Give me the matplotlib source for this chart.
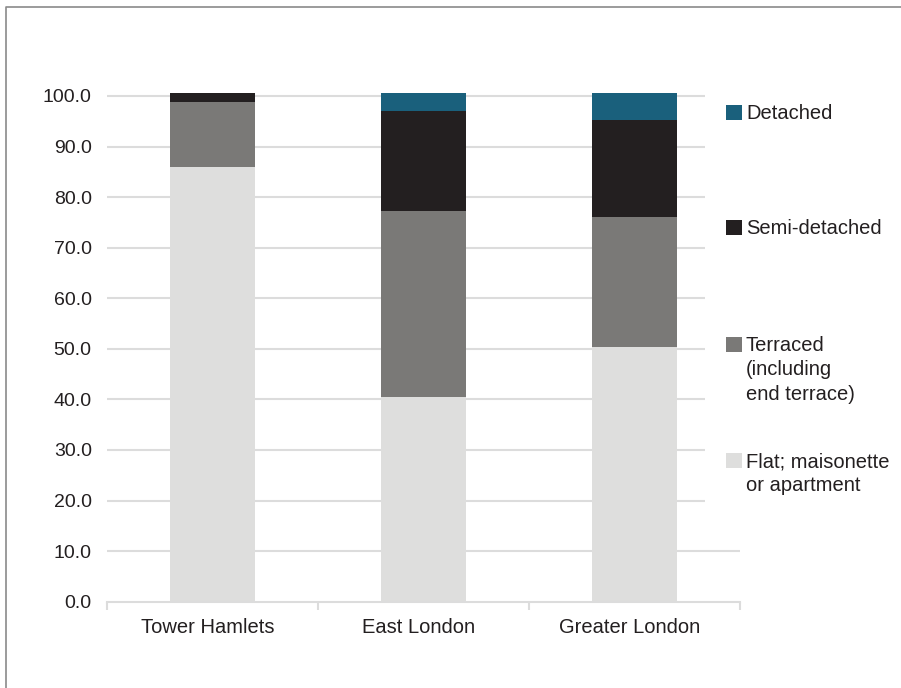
import numpy as np
import matplotlib.pyplot as plt
import matplotlib.transforms as mtransforms
from matplotlib.patches import Rectangle
from matplotlib.lines import Line2D

plt.rcParams['font.family'] = ['Liberation Sans', 'DejaVu Sans']

areas = ["Tower Hamlets", "East London", "Greater London"]
series = ["Flat; maisonette\nor apartment", "Terraced\n(including\nend terrace)",
          "Semi-detached", "Detached"]
flat = [86.0, 40.5, 50.4]
terraced = [12.8, 36.8, 25.7]
semi = [1.8, 19.8, 19.2]
detached = [0.0, 3.5, 5.3]
yticks = np.arange(0, 101, 10)

colors = ["#dededd", "#7a7977", "#231f20", "#1a607c"]
txt = "#231f20"
grid = "#dcdcdc"

fig = plt.figure(figsize=(9.01, 6.88), dpi=100)
W, H = 901, 688
ax = fig.add_axes([107 / W, 86.3 / H, 633 / W, 102 * 5.057 / H])

x = np.arange(len(areas))
bottom = np.zeros(len(areas))
for vals, c in zip([flat, terraced, semi, detached], colors):
    ax.bar(x, vals, 0.4, bottom=bottom, color=c, zorder=3)
    bottom += np.array(vals)

ax.set_xlim(-0.5, 2.5)
ax.set_ylim(0, 102)

# gridlines; the legend panel masks their right end above 15
for v in yticks[1:]:
    ax.axhline(v, color=grid, lw=1.5, zorder=1)
ax.add_patch(Rectangle((2.334, 15), 2, 95, facecolor="white", edgecolor="none",
                       zorder=2, clip_on=False))

ax.set_yticks(yticks)
ax.set_yticklabels([f"{v:.1f}" for v in yticks])
ax.tick_params(axis="y", length=0, pad=11, labelsize=14, labelcolor=txt)

ax.set_xticks([-0.5, 0.5, 1.5, 2.5])
ax.set_xticklabels([])
ax.set_xticks(x, minor=True)
ax.set_xticklabels(areas, minor=True)
ax.tick_params(axis="x", which="major", length=6, width=1.5, color=grid)
ax.tick_params(axis="x", which="minor", length=0, pad=12, labelsize=14.5,
               labelcolor=txt)
shift = mtransforms.ScaledTranslation(-5 / 100, 0, fig.dpi_scale_trans)
for lbl in ax.get_xticklabels(minor=True):
    lbl.set_transform(lbl.get_transform() + shift)

for s in ["top", "right", "left"]:
    ax.spines[s].set_visible(False)
ax.spines["bottom"].set_color(grid)
ax.spines["bottom"].set_linewidth(1.5)
ax.spines["bottom"].set_zorder(4)

# legend, top entry first
leg_y = [112, 227, 344, 460]
for lab, c, yp in zip(series[::-1], colors[::-1], leg_y):
    fig.patches.append(Rectangle((726 / W, 1 - (yp + 8) / H), 15.5 / W, 15.5 / H,
                                 facecolor=c, edgecolor="none",
                                 transform=fig.transFigure, figure=fig))
    fig.text(746 / W, 1 - (yp - 8) / H, lab, ha="left", va="top",
             fontsize=14.5, color=txt, linespacing=1.36)

# page frame
fig.lines.append(Line2D([5.5 / W, 5.5 / W, 1], [0, 1 - 6.5 / H, 1 - 6.5 / H],
                        color="#8a8a8a", lw=1.2, transform=fig.transFigure,
                        figure=fig))

fig.savefig("out.png", dpi=100)
